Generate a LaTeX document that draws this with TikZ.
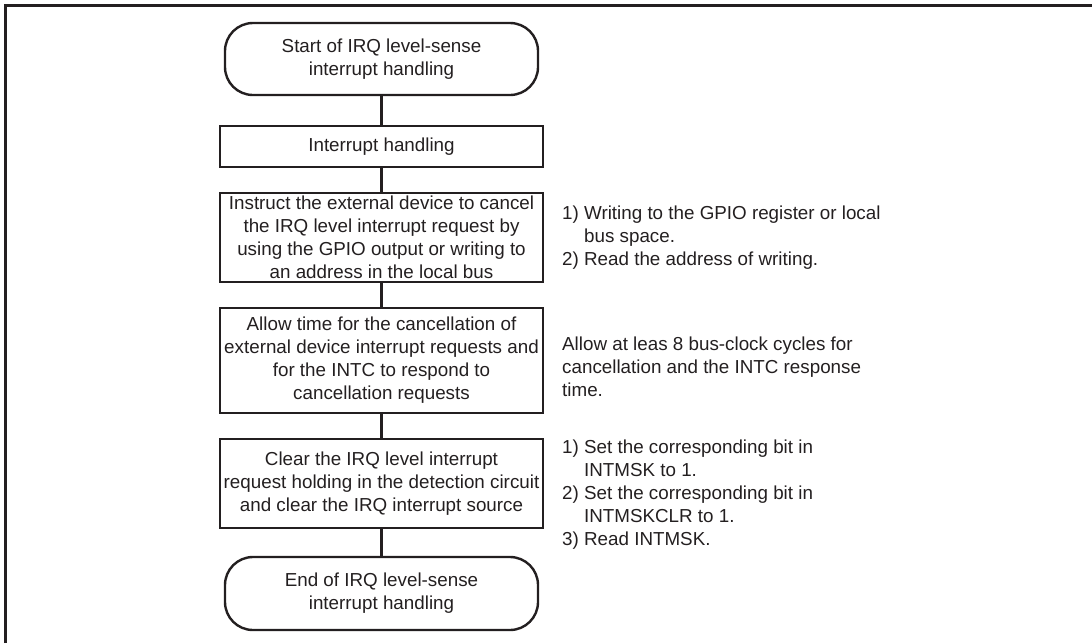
\documentclass[tikz,border=0pt]{standalone}
\usepackage{fontspec}
\setmainfont{Liberation Sans}
\newcommand\diagfont{\fontsize{18.8}{23}\selectfont}
\definecolor{lc}{RGB}{35,31,32}
\begin{document}
\begin{tikzpicture}[x=1pt,y=-1pt,
  stepbox/.style={draw=lc, line width=2.4pt, rectangle, minimum width=323pt, align=center, font=\diagfont, inner sep=0pt, text=lc},
  termbox/.style={draw=lc, line width=2.4pt, rectangle, rounded corners=28pt, minimum width=313pt, align=center, font=\diagfont, inner sep=0pt, text=lc},
  note/.style={anchor=west, align=left, font=\diagfont, inner sep=0pt, text=lc},
  link/.style={draw=lc, line width=2.4pt}]
\useasboundingbox (0,0) rectangle (1092,643);
\draw[lc, line width=3pt] (5,643) -- (5,5) -- (1092,5);

\node[termbox, minimum height=72pt] (start) at (381.5,59) {Start of IRQ level-sense\\interrupt handling};
\node[stepbox, minimum height=41pt] (ih) at (381.5,146.5) {Interrupt handling};
\node[stepbox, minimum height=89pt] (inst) at (381.5,237.5) {Instruct the external device to cancel\\the IRQ level interrupt request by\\using the GPIO output or writing to\\an address in the local bus};
\node[stepbox, minimum height=105pt] (allow) at (381.5,360.5) {Allow time for the cancellation of\\external device interrupt requests and\\for the INTC to respond to\\cancellation requests};
\node[stepbox, minimum height=89pt] (clear) at (381.5,483.5) {Clear the IRQ level interrupt\\request holding in the detection circuit\\and clear the IRQ interrupt source};
\node[termbox, minimum height=73pt] (end) at (381.5,593.5) {End of IRQ level-sense\\interrupt handling};

\draw[link] (start) -- (ih);
\draw[link] (ih) -- (inst);
\draw[link] (inst) -- (allow);
\draw[link] (allow) -- (clear);
\draw[link] (clear) -- (end);

\node[note] (n1) at (562,238) {1) Writing to the GPIO register or local\\\phantom{1) }bus space.\\2) Read the address of writing.};
\node[note] (n2) at (562,367) {Allow at leas 8 bus-clock cycles for\\cancellation and the INTC response\\time.};
\node[note] (n3) at (562,495) {1) Set the corresponding bit in\\\phantom{1) }INTMSK to 1.\\2) Set the corresponding bit in\\\phantom{2) }INTMSKCLR to 1.\\3) Read INTMSK.};
\end{tikzpicture}
\end{document}
